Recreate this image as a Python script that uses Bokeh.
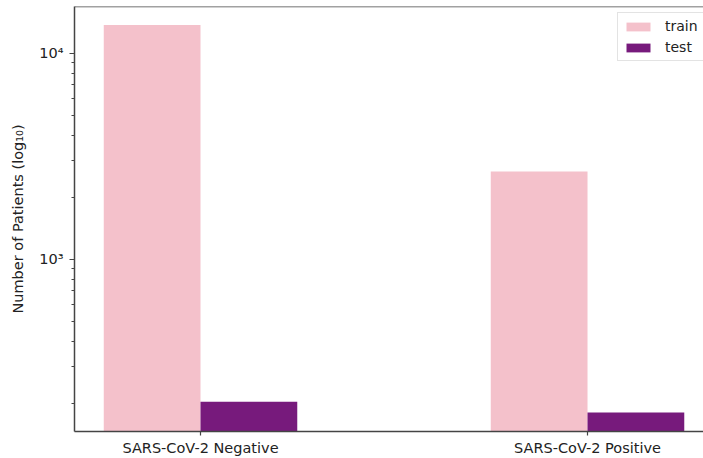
import numpy as np
from bokeh.plotting import figure
from bokeh.models import Range1d, FixedTicker, Span, Legend, LegendItem
from bokeh.embed import file_html
from bokeh.resources import INLINE

categories = ["SARS-CoV-2 Negative", "SARS-CoV-2 Positive"]
series_names = ["train", "test"]
train_counts = [13680, 2661]
test_counts = [203, 180]
y_tick_values = [1000, 10000]
y_tick_labels = ["10³", "10⁴"]
y_minor_values = [200, 300, 400, 500, 600, 700, 800, 900,
                  2000, 3000, 4000, 5000, 6000, 7000, 8000, 9000]

FONT = "DejaVu Sans"
TXT = "#222222"
SPINE = "#444444"
PINK = "#F4C1CB"
PURPLE = "#771A7C"

x = np.arange(len(categories))

p = figure(width=703, height=458, output_backend="svg", toolbar_location=None,
           y_axis_type="log",
           x_range=Range1d(-0.3256, 1.2997), y_range=Range1d(145.5, 16830),
           min_border_left=74, min_border_right=0, min_border_top=6, min_border_bottom=27)

r_train = p.vbar(x=x - 0.125, top=train_counts, bottom=1, width=0.25,
                 fill_color=PINK, line_color=None)
r_test = p.vbar(x=x + 0.125, top=test_counts, bottom=1, width=0.25,
                fill_color=PURPLE, line_color=None)

p.xgrid.visible = False
p.ygrid.visible = False
p.outline_line_color = None
p.background_fill_color = "white"
p.border_fill_color = "white"

# axes
p.xaxis.ticker = FixedTicker(ticks=list(x))
p.xaxis.major_label_overrides = {int(i): c for i, c in zip(x, categories)}
p.yaxis.ticker = FixedTicker(ticks=y_tick_values, minor_ticks=y_minor_values)
p.yaxis.major_label_overrides = {v: l for v, l in zip(y_tick_values, y_tick_labels)}

for ax in (p.xaxis[0], p.yaxis[0]):
    ax.axis_line_color = SPINE
    ax.axis_line_width = 1.5
    ax.major_tick_line_color = SPINE
    ax.major_tick_line_width = 1.2
    ax.major_tick_in = 0
    ax.major_tick_out = 5
    ax.minor_tick_line_color = SPINE
    ax.minor_tick_line_width = 1.0
    ax.minor_tick_in = 0
    ax.minor_tick_out = 3
    ax.major_label_text_font = FONT
    ax.major_label_text_font_size = "14.5px"
    ax.major_label_text_color = TXT
    ax.axis_label_text_font = FONT
    ax.axis_label_text_font_size = "14.5px"
    ax.axis_label_text_font_style = "normal"
    ax.axis_label_text_color = TXT

p.xaxis.minor_tick_line_color = None
p.xaxis.major_tick_out = 4
p.xaxis.major_label_standoff = 4
p.yaxis.major_label_standoff = 6
p.yaxis.axis_label = "Number of Patients (log₁₀)"
p.yaxis.axis_label_standoff = 10

top_spine = Span(location=16830, dimension="width", line_color=SPINE, line_width=1.5)
p.add_layout(top_spine)

legend = Legend(items=[LegendItem(label=series_names[0], renderers=[r_train]),
                       LegendItem(label=series_names[1], renderers=[r_test])],
                location=(543, 370), margin=0, padding=5, spacing=5,
                glyph_width=30, glyph_height=11, label_height=12, label_standoff=12,
                label_text_font=FONT, label_text_font_size="14px", label_text_color=TXT,
                border_line_color="#c8c8c8", border_line_width=1,
                background_fill_color="white", background_fill_alpha=0.9)
p.add_layout(legend)

open("out.html", "w").write(file_html(p, INLINE))
